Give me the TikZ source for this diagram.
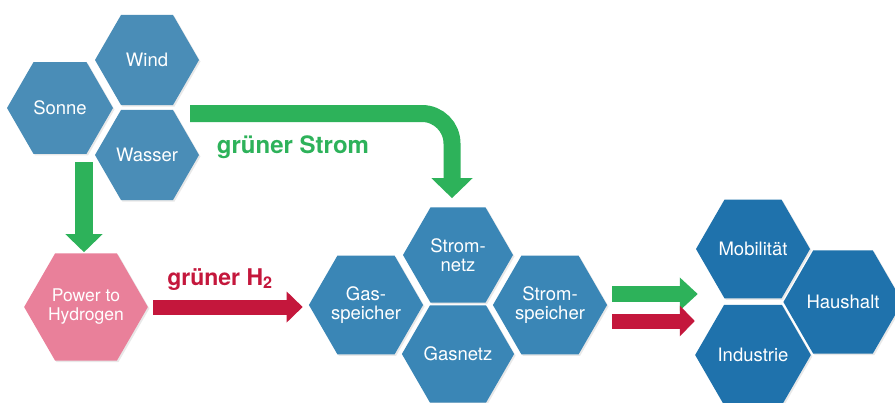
\documentclass[tikz,border=0pt]{standalone}
\usepackage{fontspec}
\setmainfont{TeX Gyre Heros}
\usetikzlibrary{shapes.geometric,arrows.meta,shadows}
\definecolor{topblue}{HTML}{4A8DB7}
\definecolor{midblue}{HTML}{3A86B6}
\definecolor{rightblue}{HTML}{1F72AC}
\definecolor{pinkhex}{HTML}{E9809A}
\definecolor{grn}{HTML}{2DB25A}
\definecolor{rd}{HTML}{C4173C}
\begin{document}
\begin{tikzpicture}[x=1pt,y=-1pt,
  hex/.style={regular polygon, regular polygon sides=6, minimum size=#1, inner sep=0pt,
    text=white, align=center, font=\fontsize{18.5}{19}\selectfont,
    drop shadow={opacity=0.18, shadow xshift=1.5pt, shadow yshift=-1.5pt}},
  lbl/.style={font=\fontsize{24}{26}\selectfont\bfseries, anchor=base}]
\useasboundingbox (0,0) rectangle (895,402);
\clip (0,0) rectangle (895,402);
\fill[white] (0,0) rectangle (895,402);

% source cluster
\node[hex=104, fill=topblue] (wind) at (147,60) {Wind};
\node[hex=106, fill=topblue] (sonne) at (60,108) {Sonne};
\node[hex=104, fill=topblue] (wasser) at (147,155) {Wasser};

% power to hydrogen
\node[hex=118, fill=pinkhex, font=\fontsize{17.5}{19}\selectfont] (p2h) at (86,307) {Power to\\Hydrogen};

% middle cluster
\node[hex=110, fill=midblue] (stromnetz) at (458,255) {Strom-\\netz};
\node[hex=110, fill=midblue] (gasspeicher) at (366,305) {Gas-\\speicher};
\node[hex=110, fill=midblue] (gasnetz) at (458,354) {Gasnetz};
\node[hex=110, fill=midblue] (stromspeicher) at (550,305) {Strom-\\speicher};

% consumers
\node[hex=114, fill=rightblue] (mobil) at (753,249) {Mobilität};
\node[hex=114, fill=rightblue] (industrie) at (753,355) {Industrie};
\node[hex=114, fill=rightblue] (haushalt) at (843,302) {Haushalt};

% labels
\node[lbl, text=grn] (lstrom) at (293,153) {grüner Strom};
\node[lbl, text=rd, font=\fontsize{23}{25}\selectfont\bfseries] (lh2) at (220,285) {grüner H\textsubscript{2}};

% arrows
\coordinate (gs) at (190,113.5);
\draw[grn, line width=17pt, rounded corners=30pt, -{Triangle[length=20pt,width=40pt]}, shorten >=9pt]
  (gs) -| ([xshift=-6pt]stromnetz.north);

\coordinate (ds) at (84,162);
\draw[grn, line width=18pt, -{Triangle[length=18pt,width=36pt]}, shorten >=1pt]
  (ds) -- (ds |- p2h.north);

\draw[rd, line width=15pt, -{Triangle[length=16pt,width=30pt]}, shorten <=5pt, shorten >=6pt]
  (p2h.east) -- (p2h.east -| gasspeicher.west);

\coordinate (ga) at ([xshift=5pt,yshift=11pt]stromspeicher.east);
\draw[grn, line width=16pt, -{Triangle[length=18pt,width=32pt]}, shorten >=-2pt]
  (ga) -- (ga -| mobil.west);

\coordinate (ra) at ([xshift=5pt,yshift=-16pt]stromspeicher.east);
\draw[rd, line width=15pt, -{Triangle[length=15pt,width=30pt]}, shorten >=1pt]
  (ra) -- (ra -| mobil.west);
\end{tikzpicture}
\end{document}
